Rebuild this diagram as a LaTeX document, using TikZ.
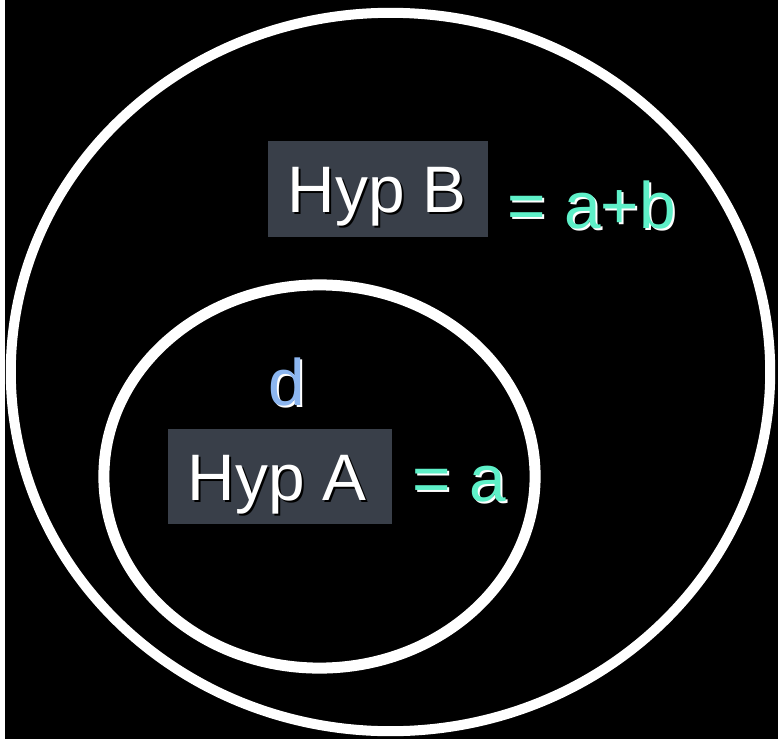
\documentclass[tikz,border=0pt]{standalone}
\usepackage{fontspec}
\setmainfont{Liberation Sans}
\usetikzlibrary{calc}
\definecolor{boxgray}{RGB}{57,63,73}
\definecolor{eqgreen}{RGB}{94,240,200}
\definecolor{dblue}{RGB}{140,182,240}
\begin{document}
\begin{tikzpicture}[x=0.01cm, y=-0.01cm,
	ring/.style={draw=white, line width=0.1cm},
	hypbox/.style={fill=boxgray, minimum width=2.2cm, minimum height=0.95cm, inner sep=0pt},
	lbl/.style={font=\fontsize{18.7}{22}\selectfont, inner sep=0pt, anchor=base west}]
	
	% --- nền ---
	\fill[white] (0,0) rectangle (778,739);
	\fill[black] (5,0) rectangle (778,739);
	
	% --- hai vòng ---
	\draw[ring] (390.5,372) ellipse [x radius=3.795cm, y radius=3.59cm];
	\draw[ring, line width=0.11cm] (319.5,476.5) ellipse [x radius=2.155cm, y radius=1.915cm];
	
	% --- Hyp B ---
	\node[hypbox] (boxB) at (378,189) {};
	\node[lbl, text=black] (hypBs) at (289,214) {Hyp B};
	\node[lbl, text=white] (hypB) at (287,212) {Hyp B};
	\node[lbl, text=white] (eqBs) at (509,230) {= a+b};
	\node[lbl, text=eqgreen] (eqB) at (507,228) {= a+b};
	
	% --- d ---
	\node[lbl, text=white] (ds) at (270,407) {d};
	\node[lbl, text=dblue] (d) at (268,405) {d};
	
	% --- Hyp A ---
	\node[hypbox, minimum width=2.24cm] (boxA) at (280,476.5) {};
	\node[lbl, text=black] (hypAs) at (189,502) {Hyp A};
	\node[lbl, text=white] (hypA) at (187,500) {Hyp A};
	\node[lbl, text=white] (eqAs) at (414,503) {= a};
	\node[lbl, text=eqgreen] (eqA) at (412,501) {= a};
	
\end{tikzpicture}
\end{document}
